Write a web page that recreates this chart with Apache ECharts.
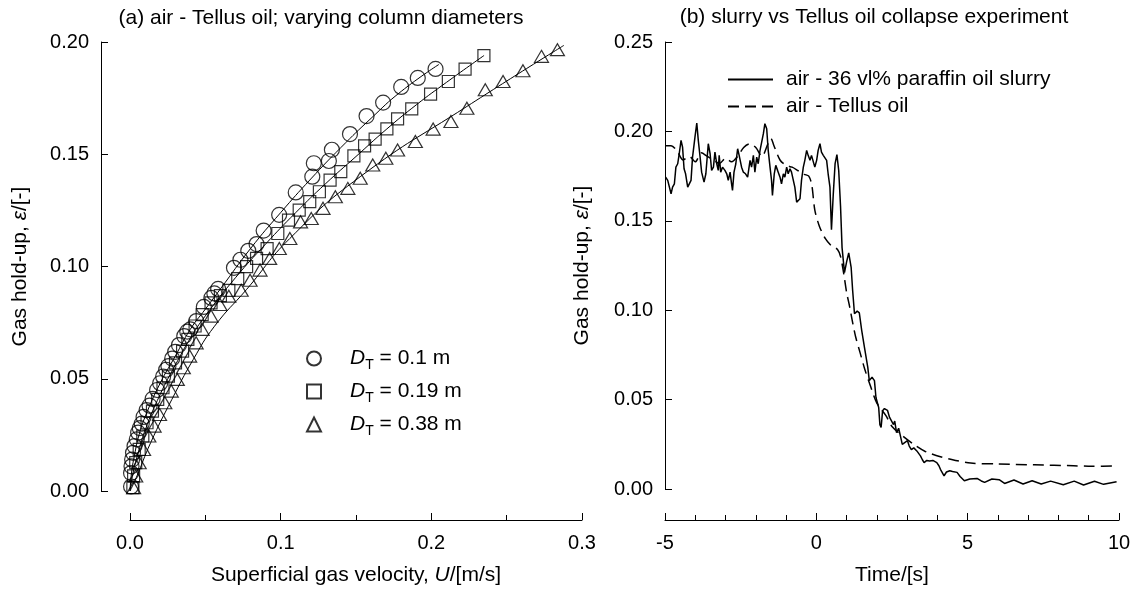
<!DOCTYPE html>
<html>
<head>
<meta charset="utf-8">
<script src="https://cdn.jsdelivr.net/npm/echarts@6/dist/echarts.min.js"></script>
<style>
html,body{margin:0;padding:0;background:#fff;}
#chart{width:1134px;height:591px;}
</style>
</head>
<body>
<div id="chart"></div>
<script>
// ---------- Panel (a): air - Tellus oil, varying column diameters ----------
const legendNamesA = ['DT = 0.1 m', 'DT = 0.19 m', 'DT = 0.38 m'];
const legendValuesA = ['0.1 m', '0.19 m', '0.38 m'];
const xTicksA = [0, 0.1, 0.2, 0.3];
const yTicksA = [0, 0.05, 0.10, 0.15, 0.20];

const circlePts = [
  [0.2028,0.188],[0.191,0.184],[0.180,0.180],[0.168,0.173],[0.157,0.167],[0.146,0.159],
  [0.134,0.152],[0.132,0.147],[0.122,0.146],[0.121,0.140],[0.110,0.133],[0.099,0.123],
  [0.0887,0.116],[0.084,0.110],[0.0785,0.107],[0.0733,0.103],[0.069,0.0994],[0.0585,0.090],
  [0.054,0.086],[0.056,0.088],[0.049,0.082],[0.044,0.0757],[0.040,0.072],[0.038,0.071],
  [0.036,0.069],[0.0325,0.065],[0.030,0.062],[0.028,0.059],[0.0255,0.0556],[0.024,0.054],
  [0.022,0.051],[0.020,0.048],[0.018,0.045],[0.015,0.041],[0.013,0.038],[0.011,0.036],
  [0.009,0.033],[0.0078,0.030],[0.0065,0.028],[0.0054,0.026],[0.0045,0.023],[0.003,0.020],
  [0.002,0.017],[0.0014,0.014],[0.001,0.011],[0.0007,0.008],[0.0007,0.002]
];
const squarePts = [
  [0.2349,0.1939],[0.2224,0.1879],[0.2113,0.1824],[0.1995,0.1768],[0.187,0.1702],[0.1776,0.1658],
  [0.1705,0.1613],[0.1627,0.1567],[0.1557,0.1537],[0.1486,0.1493],[0.1399,0.1423],[0.1328,0.1385],
  [0.1257,0.1333],[0.1193,0.1289],[0.1123,0.1251],[0.1052,0.1207],[0.0981,0.1147],[0.091,0.108],
  [0.084,0.1036],[0.0774,0.0999],[0.0715,0.0946],[0.0656,0.0894],[0.0600,0.087],[0.0538,0.0838],
  [0.0479,0.0786],[0.0432,0.0735],[0.0384,0.0675],[0.0349,0.0623],[0.0302,0.0571],[0.0255,0.0512],
  [0.0219,0.046],[0.0184,0.0408],[0.0149,0.0356],[0.0113,0.0304],[0.0085,0.0245],[0.0061,0.0185],
  [0.0038,0.0126],[0.0024,0.0067],[0.0019,0.0015]
];
const trianglePts = [
  [0.2837,0.1966],[0.2731,0.1936],[0.2608,0.1872],[0.2476,0.1824],[0.2358,0.1787],[0.2236,0.1705],
  [0.213,0.1646],[0.2012,0.1612],[0.1894,0.1557],[0.1776,0.1519],[0.1698,0.1482],[0.1611,0.1452],
  [0.1528,0.1393],[0.1446,0.1348],[0.1363,0.1311],[0.1281,0.1259],[0.1203,0.1214],[0.1132,0.1199],
  [0.1061,0.1125],[0.0991,0.108],[0.0927,0.1036],[0.0863,0.0984],[0.0797,0.0939],[0.0738,0.0894],
  [0.0656,0.0868],[0.0597,0.0831],[0.0538,0.0779],[0.0479,0.072],[0.0439,0.066],[0.0396,0.0601],
  [0.0354,0.0549],[0.0314,0.0497],[0.0274,0.0445],[0.0231,0.0393],[0.0196,0.0341],[0.016,0.0289],
  [0.0125,0.0245],[0.009,0.0185],[0.0061,0.0126],[0.0038,0.0067],[0.0024,0.0015]
];
const circleFit = [
  [0,0],[0.001,0.008],[0.003,0.016],[0.006,0.025],[0.01,0.033],[0.02,0.048],[0.03,0.060],
  [0.04,0.072],[0.05,0.081],[0.06,0.090],[0.08,0.108],[0.1,0.124],[0.12,0.139],[0.14,0.153],
  [0.16,0.166],[0.18,0.178],[0.205,0.190]
];
const squareFit = [
  [0,0],[0.002,0.008],[0.005,0.016],[0.01,0.027],[0.02,0.043],[0.03,0.056],[0.04,0.068],
  [0.05,0.078],[0.07,0.095],[0.09,0.110],[0.11,0.124],[0.13,0.137],[0.15,0.149],[0.17,0.161],
  [0.19,0.172],[0.21,0.182],[0.235,0.194]
];
const triangleFit = [
  [0,0],[0.0042,0.006],[0.0137,0.0215],[0.0278,0.0408],[0.042,0.0586],[0.0561,0.0734],
  [0.0774,0.0898],[0.1061,0.1125],[0.1528,0.140],[0.2236,0.1713],[0.2880,0.1985]
];

// ---------- Panel (b): slurry vs Tellus oil collapse experiment ----------
const legendNamesB = ['air - 36 vl% paraffin oil slurry', 'air - Tellus oil'];
const xTicksB = [-5, 0, 5, 10];
const yTicksB = [0, 0.05, 0.10, 0.15, 0.20, 0.25];

const slurryT = [
  -4.98,-4.91,-4.86,-4.80,-4.75,-4.69,-4.64,-4.58,-4.53,-4.47,-4.42,-4.37,-4.32,-4.25,-4.20,-4.14,
  -4.09,-4.01,-3.95,-3.90,-3.84,-3.79,-3.71,-3.65,-3.57,-3.51,-3.46,-3.40,-3.35,-3.29,-3.24,-3.21,
  -3.16,-3.10,-3.02,-2.96,-2.91,-2.85,-2.80,-2.77,-2.72,-2.66,-2.60,-2.55,-2.47,-2.41,-2.34,-2.27,
  -2.19,-2.14,-2.08,-2.03,-1.97,-1.92,-1.86,-1.81,-1.75,-1.70,-1.64,-1.59,-1.53,-1.48,-1.45,-1.39,
  -1.34,-1.28,-1.20,-1.15,-1.09,-1.04,-0.98,-0.93,-0.87,-0.82,-0.76,-0.71,-0.65,-0.60,-0.54,-0.49,
  -0.43,-0.38,-0.32,-0.27,-0.21,-0.16,-0.10,-0.05,0.01,0.06,0.12,0.17,0.23,0.28,0.34,0.39,
  0.45,0.50,0.56,0.62,0.68,0.74,0.80,0.85,0.93,1.00,1.07,1.15,1.20,1.26,1.35,1.42,
  1.50,1.59,1.70,1.75,1.84,1.92,1.97,2.06,2.10,2.14,2.19,2.25,2.35,2.42,2.47,2.55,
  2.59,2.65,2.72,2.77,2.84,2.90,3.01,3.07,3.14,3.22,3.32,3.44,3.50,3.56,3.65,3.74,
  3.85,3.98,4.05,4.10,4.22,4.30,4.41,4.50,4.65,4.75,4.89,5.07,5.31,5.45,5.56,5.80,
  6.04,6.22,6.53,6.83,7.13,7.43,7.74,8.16,8.52,8.83,9.19,9.49,9.92
];
const slurryEps = [
  0.1744,0.1726,0.1735,0.1651,0.1688,0.1707,0.1800,0.1819,0.1875,0.1950,0.1912,0.1791,0.1763,0.1688,0.1679,0.1726,
  0.1856,0.1968,0.2047,0.1950,0.1856,0.1772,0.1716,0.1763,0.1931,0.1875,0.1782,0.1800,0.1884,0.1819,0.1782,0.1866,
  0.1772,0.1800,0.1782,0.1763,0.1726,0.1772,0.1707,0.1670,0.1772,0.1819,0.1903,0.1866,0.1800,0.1772,0.1763,0.1744,
  0.1838,0.1800,0.1866,0.1772,0.1856,0.1819,0.1894,0.1894,0.1987,0.2043,0.2015,0.1894,0.1800,0.1726,0.1642,0.1763,
  0.1810,0.1782,0.1744,0.1707,0.1763,0.1744,0.1800,0.1763,0.1791,0.1772,0.1726,0.1688,0.1604,0.1604,0.1623,0.1726,
  0.1800,0.1838,0.1894,0.1866,0.1838,0.1866,0.1856,0.1800,0.1838,0.1894,0.1931,0.1884,0.1866,0.1866,0.1838,0.1763,
  0.1688,0.1450,0.1650,0.1820,0.1870,0.1780,0.1580,0.1350,0.1210,0.1270,0.1320,0.1240,0.1110,0.0980,0.0995,0.0985,
  0.0886,0.0792,0.0680,0.0606,0.0625,0.0606,0.0512,0.0456,0.0360,0.0344,0.0438,0.0450,0.0440,0.0400,0.0390,0.0360,
  0.0380,0.0315,0.0340,0.0330,0.0250,0.0260,0.0270,0.0240,0.0220,0.0230,0.0213,0.0185,0.0165,0.0148,0.0160,0.0157,
  0.0160,0.0148,0.0130,0.0110,0.0074,0.0095,0.0102,0.0098,0.0093,0.0070,0.0046,0.0056,0.0059,0.0045,0.0037,0.0056,
  0.0052,0.0031,0.0050,0.0028,0.0046,0.0028,0.0044,0.0024,0.0044,0.0022,0.0043,0.0026,0.0041
];
const tellusT = [
  -5.0,-4.8,-4.6,-4.4,-4.2,-4.0,-3.8,-3.6,-3.4,-3.2,-3.0,-2.8,-2.6,-2.4,-2.2,-2.0,
  -1.8,-1.6,-1.5,-1.4,-1.2,-1.0,-0.8,-0.6,-0.4,-0.25,-0.15,-0.05,0.1,0.3,0.5,0.7,
  0.8,0.9,1.0,1.1,1.2,1.3,1.45,1.6,1.8,2.0,2.3,2.5,2.9,3.3,3.6,4.1,
  4.6,5.1,6.0,7.2,8.5,9.1,9.9
];
const tellusEps = [
  0.192,0.192,0.189,0.184,0.186,0.183,0.188,0.186,0.184,0.182,0.185,0.183,0.186,0.191,0.193,0.191,
  0.186,0.193,0.196,0.192,0.184,0.181,0.180,0.178,0.176,0.175,0.170,0.156,0.147,0.140,0.136,0.134,
  0.130,0.121,0.110,0.102,0.093,0.085,0.076,0.067,0.057,0.048,0.041,0.035,0.029,0.024,0.021,0.018,
  0.016,0.0145,0.014,0.0135,0.013,0.0127,0.013
];

const FONT = '"Liberation Sans", Arial, Helvetica, sans-serif';
const BLACK = '#000';
const TXT = 21;
const zip = (a, b) => a.map((v, i) => [v, b[i]]);

function valueAxis(extra) {
  return Object.assign({
    type: 'value',
    axisLine: { show: true, onZero: false, lineStyle: { color: BLACK, width: 1 } },
    axisTick: { show: true, inside: true, length: 7, lineStyle: { color: BLACK, width: 1 } },
    splitLine: { show: false },
    nameLocation: 'middle',
    nameTextStyle: { color: BLACK, fontSize: TXT, fontFamily: FONT,
      rich: { i: { fontStyle: 'italic', fontSize: TXT, fontFamily: FONT, color: BLACK } } }
  }, extra);
}
const tickLabel = (fmt, margin) => ({ color: BLACK, fontSize: 20, fontFamily: FONT, margin: margin, formatter: fmt });

const hollow = { color: 'rgba(255,255,255,0)', borderColor: BLACK, borderWidth: 1.2 };
const subRich = {
  sp: { width: 24 },
  i: { fontStyle: 'italic', fontSize: TXT, fontFamily: FONT, color: BLACK, lineHeight: 21, verticalAlign: 'top' },
  s: { fontSize: 14, fontFamily: FONT, color: BLACK, lineHeight: 14, padding: [10, 0, 0, 0], verticalAlign: 'top' },
  n: { fontSize: TXT, fontFamily: FONT, color: BLACK, lineHeight: 21, verticalAlign: 'top' }
};

const chart = echarts.init(document.getElementById('chart'));
chart.setOption({
  animation: false,
  backgroundColor: '#fff',
  textStyle: { fontFamily: FONT, color: BLACK },
  title: [
    { text: '(a) air - Tellus oil; varying column diameters', left: 321, top: 8, textAlign: 'center', padding: 0,
      textStyle: { fontSize: TXT, fontWeight: 'normal', color: BLACK, fontFamily: FONT } },
    { text: '(b) slurry vs Tellus oil collapse experiment', left: 874, top: 7, textAlign: 'center', padding: 0,
      textStyle: { fontSize: TXT, fontWeight: 'normal', color: BLACK, fontFamily: FONT } }
  ],
  grid: [
    { left: 130, right: 552, top: 42, bottom: 99 },
    { left: 665, right: 15, top: 42, bottom: 101 }
  ],
  legend: [
    { data: legendNamesA, orient: 'vertical', left: 306, top: 348, itemWidth: 14, itemHeight: 14, itemGap: 9,
      selectedMode: false, padding: 0,
      formatter: name => '{sp|}{i|D}{s|T}{n| = ' + legendValuesA[legendNamesA.indexOf(name)] + '}',
      textStyle: { fontSize: TXT, fontFamily: FONT, color: BLACK, rich: subRich } },
    { data: legendNamesB.map(n => ({ name: n, itemStyle: { opacity: 0 } })),
      orient: 'vertical', left: 727, top: 69, itemWidth: 45, itemHeight: 14, itemGap: 6,
      selectedMode: false, padding: 0,
      textStyle: { fontSize: TXT, fontFamily: FONT, color: BLACK, lineHeight: 21, padding: [0, 0, 0, 8] } }
  ],
  xAxis: [
    valueAxis({ gridIndex: 0, min: xTicksA[0], max: xTicksA[xTicksA.length - 1], interval: 0.1, offset: 29,
      minorTick: { show: true, splitNumber: 2, length: 5, lineStyle: { color: BLACK, width: 1 } },
      axisLabel: tickLabel(v => v.toFixed(1), 13),
      name: 'Superficial gas velocity, {i|U}/[m/s]', nameGap: 45 }),
    valueAxis({ gridIndex: 1, min: xTicksB[0], max: xTicksB[xTicksB.length - 1], interval: 5, offset: 31,
      minorTick: { show: true, splitNumber: 5, length: 5, lineStyle: { color: BLACK, width: 1 } },
      axisLabel: tickLabel(v => String(v), 13),
      name: 'Time/[s]', nameGap: 45 })
  ],
  yAxis: [
    valueAxis({ gridIndex: 0, min: yTicksA[0], max: yTicksA[yTicksA.length - 1], interval: 0.05, offset: 29,
      axisLabel: tickLabel(v => v.toFixed(2), 12),
      name: 'Gas hold-up, {i|ε}/[-]', nameGap: 70 }),
    valueAxis({ gridIndex: 1, min: yTicksB[0], max: yTicksB[yTicksB.length - 1], interval: 0.05, offset: 0,
      axisLabel: tickLabel(v => v.toFixed(2), 12),
      name: 'Gas hold-up, {i|ε}/[-]', nameGap: 72 })
  ],
  series: [
    { name: 'fit1', type: 'line', xAxisIndex: 0, yAxisIndex: 0, data: circleFit, showSymbol: false, symbol: 'none',
      smooth: true, lineStyle: { color: BLACK, width: 1 }, silent: true },
    { name: 'fit2', type: 'line', xAxisIndex: 0, yAxisIndex: 0, data: squareFit, showSymbol: false, symbol: 'none',
      smooth: true, lineStyle: { color: BLACK, width: 1 }, silent: true },
    { name: 'fit3', type: 'line', xAxisIndex: 0, yAxisIndex: 0, data: triangleFit, showSymbol: false, symbol: 'none',
      smooth: true, lineStyle: { color: BLACK, width: 1 }, silent: true },
    { name: legendNamesA[0], type: 'scatter', xAxisIndex: 0, yAxisIndex: 0, data: circlePts,
      symbol: 'circle', symbolSize: 15, itemStyle: hollow },
    { name: legendNamesA[1], type: 'scatter', xAxisIndex: 0, yAxisIndex: 0, data: squarePts,
      symbol: 'rect', symbolSize: 12, itemStyle: hollow },
    { name: legendNamesA[2], type: 'scatter', xAxisIndex: 0, yAxisIndex: 0, data: trianglePts,
      symbol: 'triangle', symbolSize: [14, 12], itemStyle: hollow },
    { name: legendNamesB[0], type: 'line', xAxisIndex: 1, yAxisIndex: 1, data: zip(slurryT, slurryEps),
      symbol: 'none', showSymbol: false, lineStyle: { color: BLACK, width: 1.5, type: 'solid' }, itemStyle: { color: BLACK } },
    { name: legendNamesB[1], type: 'line', xAxisIndex: 1, yAxisIndex: 1, data: zip(tellusT, tellusEps),
      symbol: 'none', showSymbol: false, smooth: 0.3,
      lineStyle: { color: BLACK, width: 1.5, type: [11, 6] }, itemStyle: { color: BLACK } }
  ]
});
</script>
</body>
</html>
